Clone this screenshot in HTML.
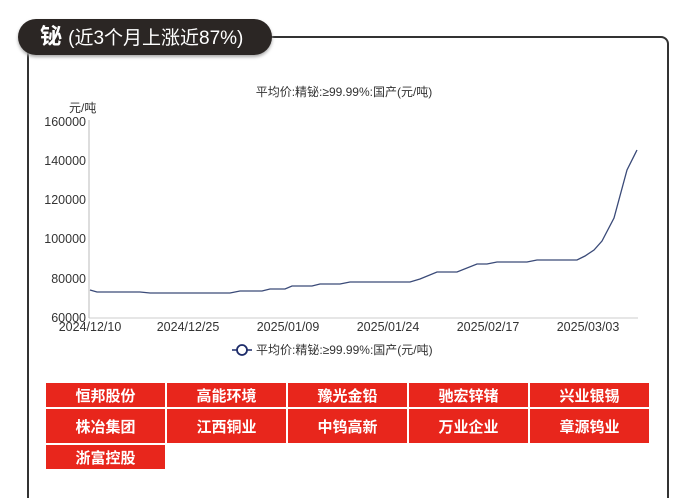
<!DOCTYPE html>
<html><head><meta charset="utf-8"><style>
body{margin:0;width:689px;height:497px;background:#fff;font-family:"Liberation Sans","Noto Sans CJK SC",sans-serif;position:relative;overflow:hidden}
.frame{position:absolute;left:27px;top:36px;width:638px;height:460px;border:2px solid #333;border-bottom:none;border-radius:8px 8px 0 0}
.pill{position:absolute;left:18px;top:19px;width:254px;height:36px;background:#2b2624;border-radius:18px;color:#fff;font-size:22px;font-weight:bold;line-height:36px;padding-left:22px;box-sizing:border-box;box-shadow:0 2px 3px #aaa}
.pill small{font-size:19px;font-weight:normal}
table{position:absolute;left:44px;top:381px;border-collapse:collapse}
td{width:119px;height:24px;background:#e8261c;color:#fff;font-weight:bold;font-size:15px;text-align:center;border:2px solid #fff;padding:0}
td.e{background:none}
</style></head><body>
<div class="frame"></div>
<div class="pill">铋 <small>(近3个月上涨近87%)</small></div>
<svg width="689" height="380" style="position:absolute;left:0;top:0" font-family="Liberation Sans,Noto Sans CJK SC,sans-serif" font-size="12.5" fill="#333">
<text x="344" y="96" text-anchor="middle" font-size="12">平均价:精铋:≥99.99%:国产(元/吨)</text>
<text x="69" y="112" font-size="12">元/吨</text>
<g text-anchor="end">
<text x="86" y="126">160000</text><text x="86" y="165">140000</text><text x="86" y="204">120000</text><text x="86" y="243">100000</text><text x="86" y="283">80000</text><text x="86" y="322">60000</text></g>
<line x1="89" y1="120" x2="89" y2="318" stroke="#bbb"/>
<line x1="89" y1="318" x2="638" y2="318" stroke="#ccc"/>
<g text-anchor="middle"><text x="90" y="331">2024/12/10</text><text x="188" y="331">2024/12/25</text><text x="288" y="331">2025/01/09</text><text x="388" y="331">2025/01/24</text><text x="488" y="331">2025/02/17</text><text x="588" y="331">2025/03/03</text></g>
<polyline fill="none" stroke="#3a4a78" stroke-width="1.3" points="90,290 97,292 140,292 150,293 230,293 240,291 262,291 270,289 285,289 292,286 312,286 320,284 340,284 350,282 410,282 420,279 437,272 457,272 477,264 487,264 497,262 527,262 537,260 577,260 585,256 594,250 602,241 614,218 627,170 637,150"/>
<line x1="232" y1="350" x2="252" y2="350" stroke="#1d2c6a" stroke-width="1.5"/>
<circle cx="242" cy="350" r="5" fill="#fff" stroke="#1d2c6a" stroke-width="1.8"/>
<text x="256" y="354" font-size="12">平均价:精铋:≥99.99%:国产(元/吨)</text>
</svg>
<table>
<tr><td>恒邦股份</td><td>高能环境</td><td>豫光金铅</td><td>驰宏锌锗</td><td>兴业银锡</td></tr>
<tr><td style="height:34px">株冶集团</td><td>江西铜业</td><td>中钨高新</td><td>万业企业</td><td>章源钨业</td></tr>
<tr><td>浙富控股</td><td class="e"></td><td class="e"></td><td class="e"></td><td class="e"></td></tr>
</table>
</body></html>
